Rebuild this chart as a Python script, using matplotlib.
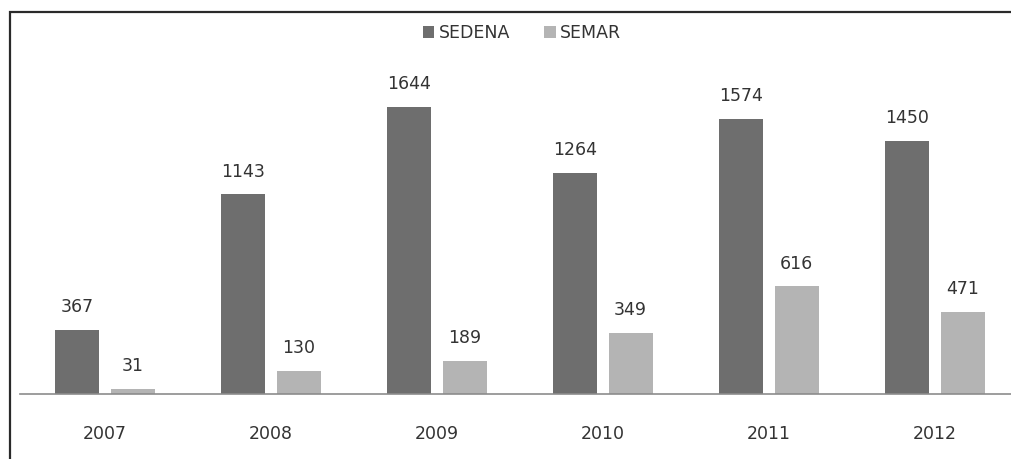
import numpy as np
import matplotlib.pyplot as plt
from matplotlib.patches import Rectangle

# ===================== DATA =====================
YEARS = ["2007", "2008", "2009", "2010", "2011", "2012"]
SEDENA = [367, 1143, 1644, 1264, 1574, 1450]
SEMAR = [31, 130, 189, 349, 616, 471]
# ================================================

DARK = "#6e6e6e"
LIGHT = "#b4b4b4"
TEXT = "#333333"

fig = plt.figure(figsize=(10.11, 4.59), dpi=100)
W, H = 1011, 459

# outer frame (open on the right/bottom like the scan)
fig.patches.append(Rectangle((10 / W, -0.1), 1.2, 1 - 12 / H + 0.1,
                             transform=fig.transFigure, fill=False,
                             edgecolor="#2a2a2a", linewidth=1.6))

ax = fig.add_axes([20 / W, (H - 394) / H, 1 - 20 / W, (394 - 60) / H])

x = np.arange(len(YEARS))
bw = 0.265
off = 0.166
b1 = ax.bar(x - off, SEDENA, bw, color=DARK, label="SEDENA")
b2 = ax.bar(x + off, SEMAR, bw, color=LIGHT, label="SEMAR")

for bars, vals in [(b1, SEDENA), (b2, SEMAR)]:
    for rect, v in zip(bars, vals):
        ax.annotate(str(v), (rect.get_x() + rect.get_width() / 2, v),
                    xytext=(0, 10), textcoords="offset points",
                    ha="center", va="bottom", fontsize=12.5, color=TEXT)

ax.set_xlim(-0.512, 5.458)
ax.set_ylim(0, 1913)
ax.set_xticks(x)
ax.set_xticklabels(YEARS, fontsize=12.5, color=TEXT)
ax.tick_params(axis="x", length=0, pad=22)
ax.set_yticks([])
for s in ["top", "right", "left"]:
    ax.spines[s].set_visible(False)
ax.spines["bottom"].set_color("#8c8c8c")
ax.spines["bottom"].set_linewidth(1.2)

fig.legend(handles=[b1, b2], loc="center", bbox_to_anchor=(522 / W, 1 - 33 / H),
           ncol=2, frameon=False, fontsize=12.5, handlelength=0.65,
           handleheight=0.65, handletextpad=0.25, columnspacing=2.0,
           labelcolor=TEXT)

fig.savefig("out.png", dpi=100)
